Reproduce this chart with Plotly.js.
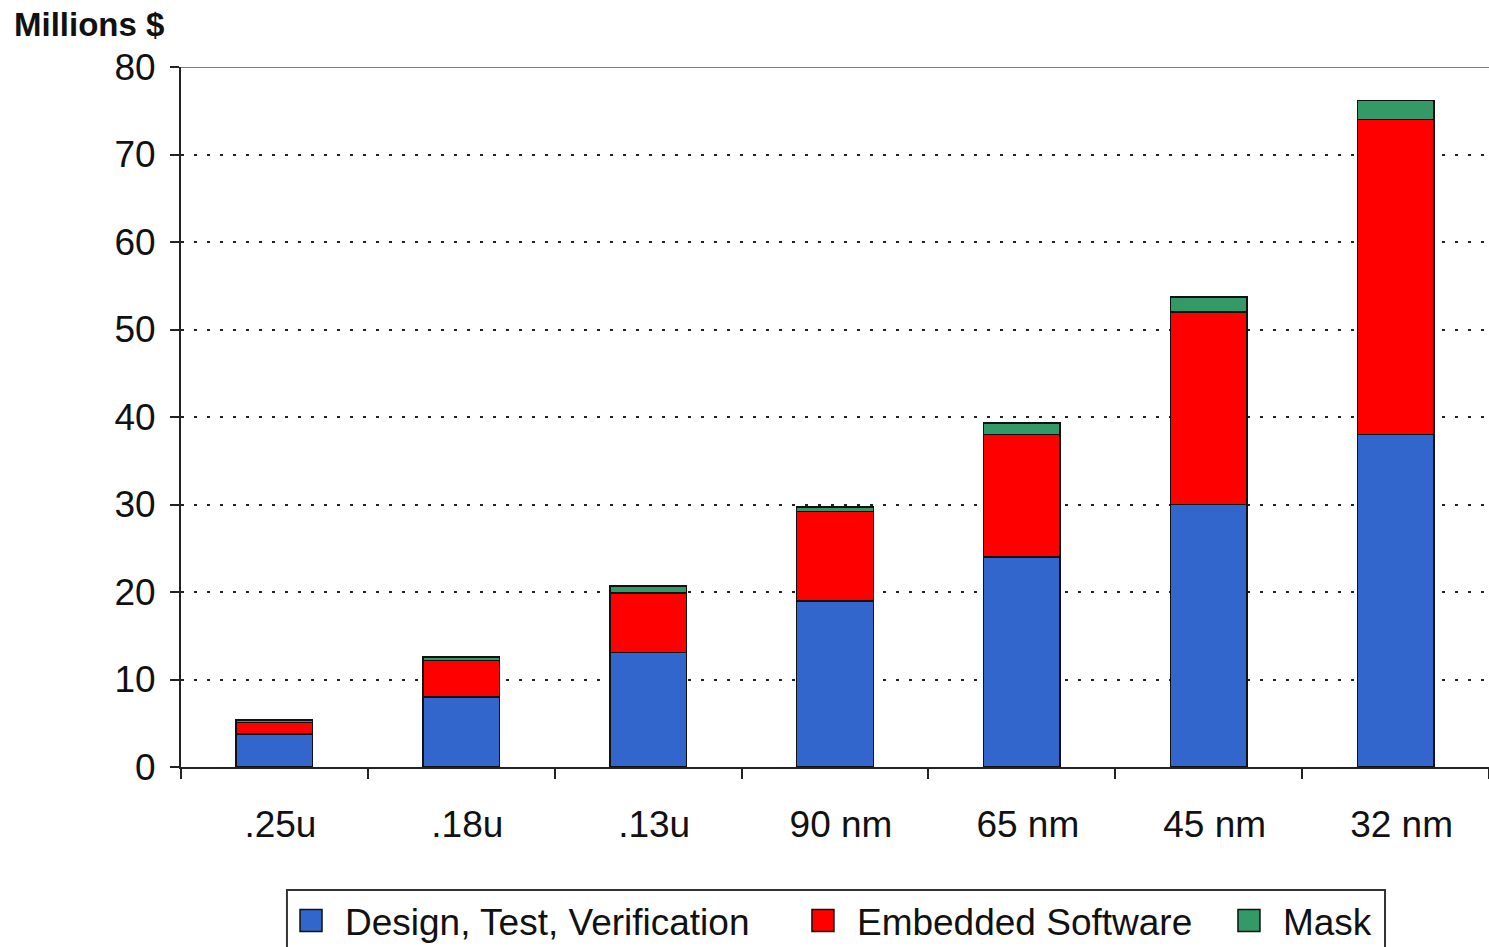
<!DOCTYPE html>
<html>
<head>
<meta charset="utf-8">
<script src="https://cdn.plot.ly/plotly-3.0.1.min.js"></script>
<style>
  html, body { margin: 0; padding: 0; background: #ffffff; }
  #chart { width: 1489px; height: 947px; }
</style>
</head>
<body>
<div id="chart"></div>
<script>
// Process nodes on the x axis
const categories = ['.25u', '.18u', '.13u', '90 nm', '65 nm', '45 nm', '32 nm'];

// Cost components, millions of dollars
const designTestVerification = [3.8, 8.0, 13.1, 19.0, 24.0, 30.0, 38.0];
const embeddedSoftware = [1.3, 4.2, 6.8, 10.2, 14.0, 22.0, 36.0];
const mask = [0.3, 0.4, 0.8, 0.5, 1.3, 1.7, 2.2];

const yTickValues = [0, 10, 20, 30, 40, 50, 60, 70, 80];

const FONT = '"Liberation Sans", Arial, sans-serif';
const outline = { color: '#111111', width: 1.5 };

function stack(name, values, color, legendId) {
  return {
    type: 'bar',
    name: name,
    x: categories,
    y: values,
    legend: legendId,
    marker: { color: color, line: outline },
    hoverinfo: 'x+y+name'
  };
}

const traces = [
  stack('Design, Test, Verification', designTestVerification, '#3366cc', 'legend'),
  stack('Embedded Software', embeddedSoftware, '#ff0000', 'legend2'),
  stack('Mask', mask, '#339966', 'legend3')
];

// One legend per series so each entry sits at its own place in the key strip
function legendAt(x) {
  return {
    orientation: 'h',
    x: x, xanchor: 'left',
    y: -0.1757, yanchor: 'top',
    borderwidth: 0,
    bgcolor: 'rgba(0,0,0,0)',
    itemwidth: 58,
    font: { family: FONT, size: 37, color: '#111111' }
  };
}

const layout = {
  width: 1489,
  height: 947,
  paper_bgcolor: '#ffffff',
  plot_bgcolor: '#ffffff',
  margin: { l: 181, r: 0, t: 67, b: 180, autoexpand: false },
  barmode: 'stack',
  bargap: 0.59,
  font: { family: FONT, size: 37, color: '#111111' },
  showlegend: true,
  legend: legendAt(0.0734),
  legend2: legendAt(0.4648),
  legend3: legendAt(0.7905),
  xaxis: {
    type: 'category',
    showgrid: false,
    showline: true,
    linecolor: '#222222',
    linewidth: 2,
    ticks: 'outside',
    tickson: 'boundaries',
    ticklen: 10,
    tickwidth: 2,
    tickcolor: '#222222',
    ticklabelstandoff: 24,
    ticklabelshift: 6,
    tickfont: { family: FONT, size: 37, color: '#111111' },
    zeroline: false,
    fixedrange: true
  },
  yaxis: {
    range: [0, 80],
    tickmode: 'array',
    tickvals: yTickValues,
    ticktext: yTickValues.map(String),
    showgrid: true,
    gridcolor: '#222222',
    gridwidth: 2,
    griddash: '3px,10px',
    showline: true,
    linecolor: '#222222',
    linewidth: 2,
    ticks: 'outside',
    ticklen: 9,
    tickwidth: 2,
    tickcolor: '#222222',
    ticklabelstandoff: 7,
    tickfont: { family: FONT, size: 37, color: '#111111' },
    zeroline: false,
    fixedrange: true
  },
  shapes: [
    // top frame line
    {
      type: 'line', xref: 'paper', yref: 'y',
      x0: 0, x1: 1, y0: 80, y1: 80,
      line: { color: '#555555', width: 1.5 }
    },
    // frame around the key strip
    {
      type: 'rect', xref: 'paper', yref: 'paper',
      x0: 0.081, x1: 0.9205, y0: -0.1757, y1: -0.29,
      line: { color: '#333333', width: 2 },
      fillcolor: 'rgba(0,0,0,0)'
    }
  ],
  annotations: [
    {
      text: '<b>Millions $</b>',
      xref: 'paper', yref: 'paper',
      x: -0.129, xanchor: 'left',
      y: 1.06, yanchor: 'middle',
      showarrow: false,
      font: { family: FONT, size: 33, color: '#111111' }
    }
  ]
};

Plotly.newPlot('chart', traces, layout, { displayModeBar: false, staticPlot: true }).then(function (gd) {
  // larger square swatches in the key
  gd.querySelectorAll('.legendpoints path').forEach(function (p) {
    p.setAttribute('d', 'M11,11H-11V-11H11Z');
  });
});
</script>
</body>
</html>
